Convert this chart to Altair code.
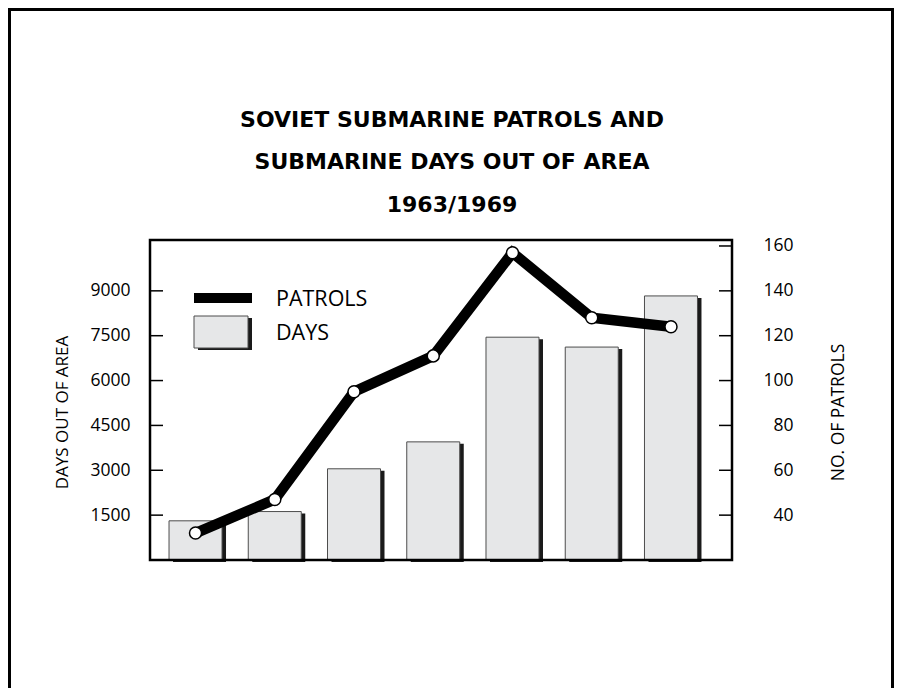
import altair as alt
import pandas as pd

years = ["1963", "1964", "1965", "1966", "1967", "1968", "1969"]
days = [1310, 1620, 3050, 3950, 7450, 7120, 8830]
patrols = [32, 47, 95, 111, 157, 128, 124]
day_ticks = [1500, 3000, 4500, 6000, 7500, 9000]
patrol_ticks = [40, 60, 80, 100, 120, 140, 160]
title_lines = ["SOVIET SUBMARINE PATROLS AND", "SUBMARINE DAYS OUT OF AREA", "1963/1969"]
legend_labels = ["PATROLS", "DAYS"]

FONT = "Open Sans"
TFONT = "DejaVu Sans"
W, H = 582, 320
DAYS_DOMAIN = [0, 10700]
PATROL_DOMAIN = [20, 20 + 10700 / 75]

df = pd.DataFrame({"year": years, "days": days, "patrols": patrols})
one = pd.DataFrame({"k": [0]})

xenc = alt.X(
    "year:N", sort=years,
    scale=alt.Scale(range=[5.9, 560.6], paddingInner=0, paddingOuter=0),
    axis=alt.Axis(title=None, ticks=False, tickSize=0, domain=False, grid=False,
                  labelAngle=0, labelFont=FONT, labelFontSize=17.5, labelColor="black",
                  labelBaseline="alphabetic", labelPadding=36),
)
xnoaxis = alt.X("year:N", sort=years,
                scale=alt.Scale(range=[5.9, 560.6], paddingInner=0, paddingOuter=0),
                axis=None)

days_scale = alt.Scale(domain=DAYS_DOMAIN, nice=False, zero=False)
patrol_scale = alt.Scale(domain=PATROL_DOMAIN, nice=False, zero=False)

frame_outer = alt.Chart(one).mark_rect(fillOpacity=0, stroke="black", strokeWidth=3).encode(
    x=alt.value(-140.5), x2=alt.value(742.5), y=alt.value(-230.5), y2=alt.value(480)
)

shadow = alt.Chart(df).mark_bar(width=53, xOffset=4, yOffset=2, color="#1a1a1a").encode(
    x=xnoaxis, y=alt.Y("days:Q", scale=days_scale, axis=None)
)

bars = alt.Chart(df).mark_bar(width=53, fill="#e6e7e8", stroke="#4d4d4d", strokeWidth=1).encode(
    x=xenc,
    y=alt.Y("days:Q", scale=days_scale,
            axis=alt.Axis(orient="left", values=day_ticks, format="d", ticks=False, tickSize=0,
                          domain=False, grid=False, labelFont=FONT, labelFontSize=17.5,
                          labelColor="black", labelPadding=20, title="DAYS OUT OF AREA",
                          titleFont=FONT, titleFontSize=17, titleFontWeight="normal",
                          titleColor="black", titleAngle=-90, titleX=-88, titleY=172,
                          titleAlign="center", titleBaseline="middle")),
)

left_ticks = alt.Chart(pd.DataFrame({"v": day_ticks})).mark_rule(color="black", strokeWidth=1.5).encode(
    y=alt.Y("v:Q", scale=days_scale, axis=None), x=alt.value(0), x2=alt.value(13)
)

line = alt.Chart(df).mark_line(color="black", strokeWidth=10.5).encode(
    x=xnoaxis,
    y=alt.Y("patrols:Q", scale=patrol_scale,
            axis=alt.Axis(orient="right", values=patrol_ticks, format="d", ticks=False, tickSize=0,
                          domain=False, grid=False, labelFont=FONT, labelFontSize=17.5,
                          labelColor="black", labelAlign="right", labelPadding=61,
                          title="NO. OF PATROLS", titleFont=FONT, titleFontSize=17.5,
                          titleFontWeight="normal", titleColor="black", titleAngle=-90,
                          titleX=106, titleY=172, titleAlign="center", titleBaseline="middle")),
)

points = alt.Chart(df).mark_point(filled=True, fill="white", stroke="black", strokeWidth=1.5,
                                  size=145, opacity=1).encode(
    x=xnoaxis, y=alt.Y("patrols:Q", scale=patrol_scale, axis=None)
)

right_ticks = alt.Chart(pd.DataFrame({"v": patrol_ticks})).mark_rule(color="black", strokeWidth=1.5).encode(
    y=alt.Y("v:Q", scale=patrol_scale, axis=None), x=alt.value(W - 13), x2=alt.value(W)
)

plot_frame = alt.Chart(one).mark_rect(fillOpacity=0, stroke="black", strokeWidth=2.5).encode(
    x=alt.value(0), x2=alt.value(W), y=alt.value(0), y2=alt.value(H)
)

title_layers = []
for txt, yy in zip(title_lines, [-113.5, -71, -28.5]):
    title_layers.append(
        alt.Chart(pd.DataFrame({"t": [txt]})).mark_text(
            font=TFONT, fontSize=22, fontWeight="bold", align="center",
            baseline="alphabetic", color="black"
        ).encode(x=alt.value(302), y=alt.value(yy), text="t:N")
    )

leg_line = alt.Chart(one).mark_rule(color="black", strokeWidth=10, strokeCap="butt").encode(
    x=alt.value(44), x2=alt.value(102), y=alt.value(58)
)
leg_shadow = alt.Chart(one).mark_rect(color="#1a1a1a").encode(
    x=alt.value(48), x2=alt.value(102), y=alt.value(78), y2=alt.value(110)
)
leg_box = alt.Chart(one).mark_rect(fill="#e6e7e8", stroke="#4d4d4d", strokeWidth=1).encode(
    x=alt.value(44), x2=alt.value(98), y=alt.value(76), y2=alt.value(108)
)
leg_text = []
for txt, yy in zip(legend_labels, [65.5, 100]):
    leg_text.append(
        alt.Chart(pd.DataFrame({"t": [txt]})).mark_text(
            font=FONT, fontSize=21.5, align="left", baseline="alphabetic", color="black"
        ).encode(x=alt.value(126), y=alt.value(yy), text="t:N")
    )

chart = alt.layer(
    frame_outer, shadow, bars, left_ticks, line, points, right_ticks, plot_frame,
    *title_layers, leg_line, leg_shadow, leg_box, *leg_text
).resolve_scale(y="independent").properties(
    width=W, height=H,
    autosize=alt.AutoSizeParams(type="none"),
    padding={"left": 142, "top": 232, "right": 162, "bottom": 128},
    background="white",
).configure_view(strokeWidth=0)

chart.save("out.html", embed_options={"renderer": "svg", "actions": False})
